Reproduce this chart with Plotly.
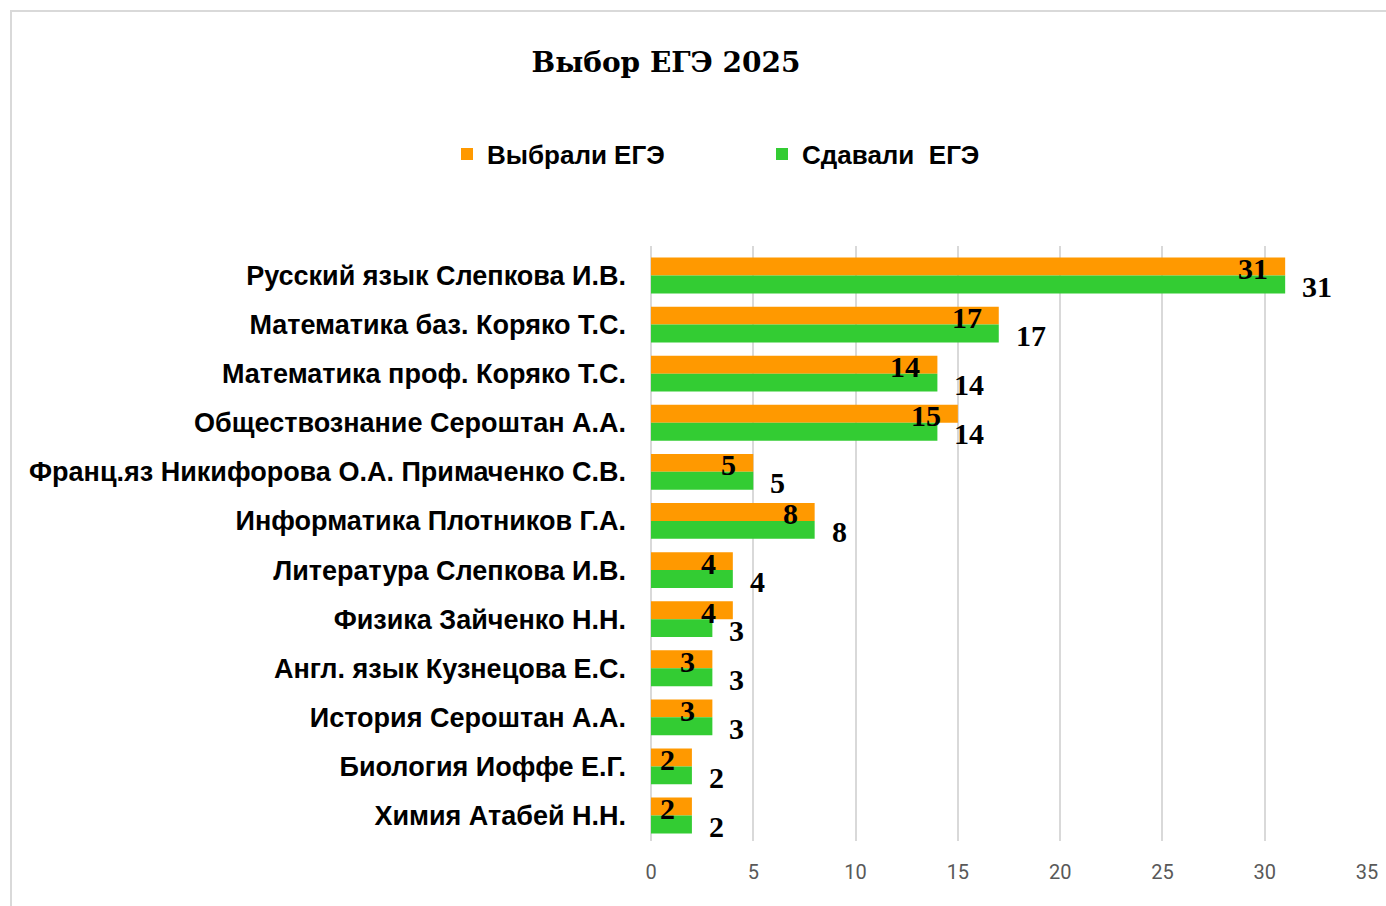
import plotly.graph_objects as go

# Subjects with teacher names, top to bottom
subjects = [
    "Русский язык Слепкова И.В.",
    "Математика баз. Коряко Т.С.",
    "Математика проф. Коряко Т.С.",
    "Обществознание Сероштан А.А.",
    "Франц.яз Никифорова О.А. Примаченко С.В.",
    "Информатика Плотников Г.А.",
    "Литература Слепкова И.В.",
    "Физика Зайченко Н.Н.",
    "Англ. язык Кузнецова Е.С.",
    "История Сероштан А.А.",
    "Биология Иоффе Е.Г.",
    "Химия Атабей Н.Н.",
]
chose_exam = [31, 17, 14, 15, 5, 8, 4, 4, 3, 3, 2, 2]
took_exam = [31, 17, 14, 14, 5, 8, 4, 3, 3, 3, 2, 2]

x_ticks = [0, 5, 10, 15, 20, 25, 30, 35]

ORANGE = "#FF9900"
GREEN = "#33CC33"
GRID = "#D9D9D9"

W, H = 1386, 906
ML, MR, MT, MB = 651, 19, 246, 65
PW, PH = W - ML - MR, H - MT - MB

label_font = dict(family="Liberation Serif, DejaVu Serif, serif", size=30, color="#000000")
cat_font = dict(family="Liberation Sans, Arial, sans-serif", size=27, color="#000000", weight="bold")
legend_font = dict(family="Liberation Sans, Arial, sans-serif", size=26, color="#000000", weight="bold")

fig = go.Figure()
fig.add_trace(go.Bar(
    y=subjects, x=chose_exam, orientation="h", name="Выбрали ЕГЭ",
    marker=dict(color=ORANGE, line=dict(width=0)),
))
fig.add_trace(go.Bar(
    y=subjects, x=took_exam, orientation="h", name="Сдавали  ЕГЭ",
    marker=dict(color=GREEN, line=dict(width=0)),
))

annotations = []
for subj, v in zip(subjects, chose_exam):
    annotations.append(dict(
        x=v, y=subj, xref="x", yref="y", text=f"<b>{v}</b>", showarrow=False,
        xanchor="right", yanchor="middle", xshift=-15, yshift=7, font=label_font,
    ))
for subj, v in zip(subjects, took_exam):
    annotations.append(dict(
        x=v, y=subj, xref="x", yref="y", text=f"<b>{v}</b>", showarrow=False,
        xanchor="left", yanchor="middle", xshift=15, yshift=-11, font=label_font,
    ))

# outer frame of the chart area (left and top edges visible)
def px_to_paper_x(px):
    return (px - ML) / PW

def px_to_paper_y(py):
    return (H - MB - py) / PH

shapes = [dict(
    type="rect", xref="paper", yref="paper",
    x0=px_to_paper_x(11), x1=px_to_paper_x(W + 10),
    y0=px_to_paper_y(H + 10), y1=px_to_paper_y(11),
    line=dict(color=GRID, width=2), fillcolor="rgba(0,0,0,0)", layer="below",
)]

fig.update_layout(
    width=W, height=H,
    margin=dict(l=ML, r=MR, t=MT, b=MB, pad=0, autoexpand=False),
    paper_bgcolor="white", plot_bgcolor="white",
    barmode="group", bargap=0.27, bargroupgap=0,
    title=dict(
        text="<b>Выбор ЕГЭ 2025</b>", xref="container", x=666 / W,
        y=1 - 62 / H, yanchor="middle", xanchor="center",
        font=dict(family="DejaVu Serif, serif", size=28, color="#000000"),
    ),
    legend=dict(
        orientation="h", xref="paper", yref="paper",
        x=px_to_paper_x(447), y=px_to_paper_y(154), xanchor="left", yanchor="middle",
        font=legend_font,
        entrywidth=270, entrywidthmode="pixels", itemwidth=30,
        traceorder="normal", bgcolor="rgba(0,0,0,0)",
    ),
    xaxis=dict(
        range=[0, 35], tickvals=x_ticks, showgrid=True, gridcolor=GRID, gridwidth=2,
        zeroline=True, zerolinecolor=GRID, zerolinewidth=2, showline=False,
        ticks="", ticklabelstandoff=17, automargin=False,
        tickfont=dict(family="Liberation Sans Narrow, Roboto, sans-serif", size=20, color="#595959"),
        fixedrange=True,
    ),
    yaxis=dict(
        autorange="reversed", showgrid=False, showline=False, ticks="",
        ticklabelstandoff=24, automargin=False,
        tickfont=cat_font,
    ),
    annotations=annotations,
    shapes=shapes,
    showlegend=True,
)

fig.write_html("out.html")
